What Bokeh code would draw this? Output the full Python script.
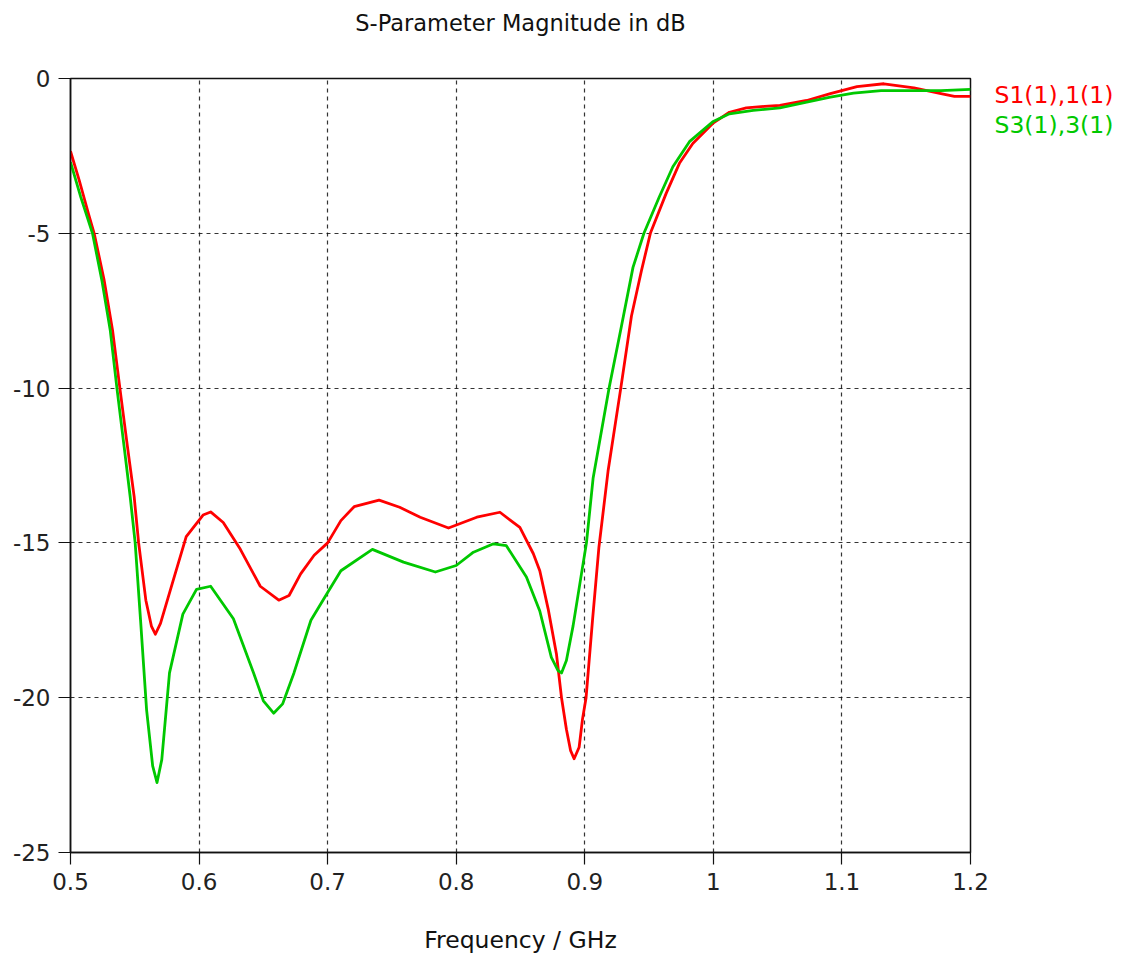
from bokeh.plotting import figure
from bokeh.models import Range1d, FixedTicker, Title
from bokeh.layouts import row
from bokeh.core.properties import value
from bokeh.embed import file_html
from bokeh.resources import INLINE

# ---------------- data ----------------
series_names = ["S1(1),1(1)", "S3(1),3(1)"]
series_colors = ["#ff0000", "#00c800"]

s11_freq = [0.500, 0.5068, 0.514, 0.5184, 0.5262, 0.5327, 0.5384, 0.5443, 0.5495,
            0.553, 0.5586, 0.563, 0.566, 0.570, 0.5796, 0.590, 0.6031, 0.609,
            0.6188, 0.632, 0.6476, 0.662, 0.670, 0.679, 0.6895, 0.700, 0.7103,
            0.7206, 0.740, 0.756, 0.772, 0.794, 0.816, 0.834, 0.8495, 0.860,
            0.865, 0.8715, 0.878, 0.8819, 0.8857, 0.8889, 0.8917, 0.8956, 0.8982,
            0.901, 0.906, 0.911, 0.9181, 0.928, 0.9363, 0.9441, 0.951, 0.9633,
            0.9736, 0.984, 0.9995, 1.0125, 1.0256, 1.040, 1.0517, 1.0726, 1.091,
            1.1117, 1.1326, 1.156, 1.177, 1.1875, 1.200]
s11_db = [-2.35, -3.29, -4.37, -5.0, -6.52, -8.13, -10.0, -11.89, -13.5,
          -15.0, -16.85, -17.7, -17.95, -17.6, -16.25, -14.8, -14.1, -14.0,
          -14.34, -15.2, -16.4, -16.85, -16.7, -16.0, -15.4, -15.0, -14.28,
          -13.83, -13.62, -13.85, -14.17, -14.52, -14.17, -14.01, -14.5, -15.35,
          -15.9, -17.13, -18.6, -20.0, -21.02, -21.7, -21.97, -21.6, -20.7,
          -20.0, -17.5, -15.14, -12.68, -10.0, -7.67, -6.2, -5.0, -3.71,
          -2.74, -2.1, -1.45, -1.09, -0.95, -0.9, -0.87, -0.71, -0.49,
          -0.26, -0.17, -0.30, -0.49, -0.58, -0.58]

s33_freq = [0.500, 0.508, 0.5171, 0.5244, 0.5309, 0.5361, 0.5417, 0.5464, 0.5503,
            0.5545, 0.5592, 0.5639, 0.5673, 0.571, 0.577, 0.5874, 0.598, 0.609,
            0.6267, 0.6424, 0.650, 0.658, 0.665, 0.6738, 0.687, 0.700, 0.7103,
            0.7348, 0.759, 0.7838, 0.800, 0.8134, 0.829, 0.839, 0.8546, 0.865,
            0.874, 0.8793, 0.8819, 0.8857, 0.8909, 0.8974, 0.9013, 0.9065, 0.9189,
            0.9285, 0.9375, 0.946, 0.958, 0.9685, 0.9814, 0.9995, 1.0125, 1.031,
            1.0517, 1.0726, 1.091, 1.109, 1.1305, 1.156, 1.177, 1.200]
s33_db = [-2.7, -3.83, -5.0, -6.52, -8.13, -10.0, -11.89, -13.5, -15.0,
          -17.5, -20.4, -22.2, -22.74, -22.0, -19.2, -17.3, -16.5, -16.4,
          -17.45, -19.2, -20.1, -20.5, -20.2, -19.2, -17.5, -16.6, -15.9,
          -15.21, -15.62, -15.94, -15.73, -15.3, -15.03, -15.09, -16.1, -17.2,
          -18.7, -19.13, -19.2, -18.8, -17.68, -16.0, -15.0, -12.9, -10.0,
          -8.0, -6.1, -5.0, -3.82, -2.85, -2.04, -1.4, -1.14, -1.03,
          -0.95, -0.76, -0.6, -0.47, -0.39, -0.39, -0.39, -0.35]

x_ticks = [0.5, 0.6, 0.7, 0.8, 0.9, 1.0, 1.1, 1.2]
x_tick_labels = ["0.5", "0.6", "0.7", "0.8", "0.9", "1", "1.1", "1.2"]
y_ticks = [0, -5, -10, -15, -20, -25]
y_tick_labels = ["0", "-5", "-10", "-15", "-20", "-25"]

title_text = "S-Parameter Magnitude in dB"
x_label = "Frequency / GHz"

FONT = "DejaVu Sans"
TICK_FS = "23px"
TITLE_FS = "22.5px"
LABEL_FS = "23.5px"

# ---------------- main figure ----------------
W_MAIN, H = 990, 965
TOP, BOTTOM = 78, 113
p = figure(width=W_MAIN, height=H, output_backend="svg", toolbar_location=None,
           x_range=Range1d(0.5, 1.2), y_range=Range1d(-25, 0),
           min_border_left=70, min_border_right=20, min_border_top=TOP,
           min_border_bottom=BOTTOM, title=None)

p.background_fill_color = "white"
p.border_fill_color = "white"
p.outline_line_color = "#111111"
p.outline_line_width = 1.5

# spacer title (nearest the frame) then the real title above it
p.add_layout(Title(text=" ", text_font_size="10px", standoff=28), "above")
p.add_layout(Title(text=title_text, align="center", text_font=FONT,
                   text_font_size=TITLE_FS, text_font_style="normal",
                   text_color="#111111", standoff=4), "above")

for ax in (p.xaxis[0], p.yaxis[0]):
    ax.axis_line_color = "#111111"
    ax.axis_line_width = 1.5
    ax.major_tick_line_color = "#111111"
    ax.major_tick_line_width = 1.2
    ax.major_tick_in = 0
    ax.major_tick_out = 12
    ax.minor_tick_line_color = None
    ax.major_label_text_font = FONT
    ax.major_label_text_font_size = TICK_FS
    ax.major_label_text_color = "#222222"
    ax.major_label_standoff = 8

p.xaxis.ticker = FixedTicker(ticks=x_ticks)
p.xaxis.major_label_overrides = {t: l for t, l in zip(x_ticks, x_tick_labels)}
p.yaxis.ticker = FixedTicker(ticks=y_ticks)
p.yaxis.major_label_overrides = {t: l for t, l in zip(y_ticks, y_tick_labels)}

p.xaxis.axis_label = x_label
p.xaxis.axis_label_text_font = FONT
p.xaxis.axis_label_text_font_size = LABEL_FS
p.xaxis.axis_label_text_font_style = "normal"
p.xaxis.axis_label_text_color = "#111111"
p.xaxis.axis_label_standoff = 33

p.grid.grid_line_color = "#111111"
p.grid.grid_line_dash = "4 4"
p.grid.grid_line_width = 1.2
p.grid.grid_line_alpha = 0.85

p.line(s11_freq, s11_db, line_color=series_colors[0], line_width=2.8, line_join="round")
p.line(s33_freq, s33_db, line_color=series_colors[1], line_width=2.8, line_join="round")

# ---------------- legend strip on the right (pixel-like coordinates) ----------------
# the row aligns this strip's frame with the main frame (TOP .. H-BOTTOM)
W_LEG = 1133 - W_MAIN
LEG_X, LEG_Y0, LEG_DY = 4, 94, 30
q = figure(width=W_LEG, height=H, output_backend="svg", toolbar_location=None,
           x_range=Range1d(0, W_LEG), y_range=Range1d(H - BOTTOM, TOP),
           min_border_left=0, min_border_right=0, min_border_top=TOP,
           min_border_bottom=BOTTOM, x_axis_type=None, y_axis_type=None)
q.grid.visible = False
q.outline_line_color = None
q.background_fill_color = "white"
q.border_fill_color = "white"
q.text(x=[LEG_X] * len(series_names),
       y=[LEG_Y0 + i * LEG_DY for i in range(len(series_names))],
       text=series_names, text_color=series_colors,
       text_font=value(FONT), text_font_size=LABEL_FS,
       text_baseline="middle", text_align="left")

layout = row(p, q)
open("out.html", "w").write(file_html(layout, INLINE))
